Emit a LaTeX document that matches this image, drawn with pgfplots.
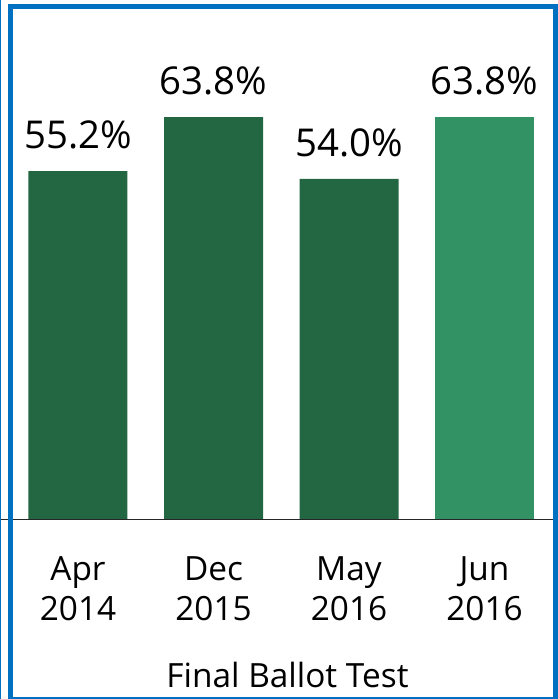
\documentclass[border=0pt]{standalone}
\usepackage{pgfplots}
\pgfplotsset{compat=1.18}
\usepackage{fontspec}
\setmainfont{Open Sans}
\definecolor{dkgreen}{RGB}{35,102,66}
\definecolor{ltgreen}{RGB}{51,146,99}
\definecolor{frameblue}{RGB}{0,112,192}
\begin{document}
\begin{tikzpicture}[x=1bp,y=1bp]
\path[use as bounding box] (0bp,0bp) rectangle (558bp,699bp);
\begin{axis}[
  at={(0bp,180bp)}, anchor=south west,
  scale only axis, width=558bp, height=504bp,
  xmin=-0.5756, xmax=3.5424, ymin=0, ymax=80,
  axis x line*=bottom, hide y axis,
  x axis line style={black!85, line width=0.8bp},
  xtick={0,1,2,3}, major tick length=0pt,
  xticklabels={Apr\\2014,Dec\\2015,May\\2016,Jun\\2016},
  xticklabel style={font=\fontsize{33.5}{41}\selectfont, align=center, anchor=north, inner sep=0pt, yshift=-37bp},
  ybar, bar width=99bp, bar shift=0pt,
  /pgf/number format/assume math mode=true,
  nodes near coords={\pgfmathprintnumber[fixed,precision=1,fixed zerofill]{\pgfplotspointmeta}\%},
  nodes near coords style={font=\fontsize{38.5}{44}\selectfont, anchor=south, inner sep=0pt, yshift=22bp, black},
  clip=false,
]
\addplot[fill=dkgreen, draw=none] coordinates {(0,55.2) (1,63.8) (2,54.0)};
\addplot[fill=ltgreen, draw=none] coordinates {(3,63.8)};
\end{axis}
\node[anchor=base, font=\fontsize{33.5}{40}\selectfont, inner sep=0pt] at (287.5bp,12bp) {Final Ballot Test};
% frame
\draw[frameblue, line width=1.2bp] (0.6bp,0bp) -- (0.6bp,699bp);
\draw[frameblue, line width=5bp] (10.5bp,1.5bp) -- (10.5bp,692.5bp) -- (555.5bp,692.5bp) -- (555.5bp,1.5bp);
\draw[frameblue, line width=1.5bp] (8bp,1.2bp) -- (558bp,1.2bp);
\end{tikzpicture}
\end{document}
